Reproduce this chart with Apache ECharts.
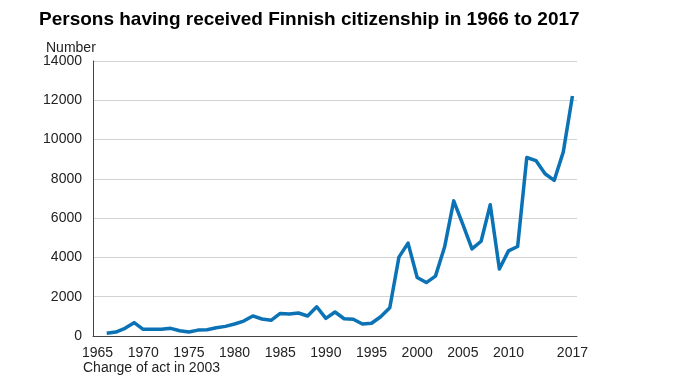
<!DOCTYPE html>
<html><head><meta charset="utf-8">
<script src="https://cdn.jsdelivr.net/npm/echarts@6/dist/echarts.min.js"></script>
<style>html,body{margin:0;padding:0;background:#fff}#c{width:683px;height:384px}</style>
</head><body><div id="c"></div>
<script>
const years = [];
for (let y = 1965; y <= 2017; y++) years.push(String(y));
const citizenships = [
  null,
  140, 200, 390, 680, 340, 340, 340, 390, 270, 200,
  300, 320, 420, 490, 610, 760, 1020, 865, 800, 1150,
  1120, 1170, 1020, 1490, 900, 1220, 880, 850, 610, 650,
  981, 1439, 4017, 4730, 2977, 2720, 3049, 4526, 6880, 5683,
  4433, 4824, 6682, 3413, 4334, 4558, 9087, 8930, 8260, 7921,
  9375, 12219
];
const labelYears = ['1965','1970','1975','1980','1985','1990','1995','2000','2005','2010','2017'];
const tickYears = ['1970','1975','1980','1985','1990','1995','2000','2005','2010','2015'];

const chart = echarts.init(document.getElementById('c'), null, {renderer:'canvas'});
chart.setOption({
  animation: false,
  title: {
    text: 'Persons having received Finnish citizenship in 1966 to 2017',
    left: 34, top: 5,
    textStyle: {fontFamily: 'Liberation Sans, Arial', fontWeight: 'bold', fontSize: 19, color: '#000'}
  },
  graphic: [
    {type: 'text', left: 46, top: 41, style: {text: 'Number', font: '14px "Liberation Sans", Arial', fill: '#222'}},
    {type: 'text', left: 83, top: 361, style: {text: 'Change of act in 2003', font: '14px "Liberation Sans", Arial', fill: '#222'}}
  ],
  grid: {left: 93, right: 106, top: 61, bottom: 48, containLabel: false},
  xAxis: {
    type: 'category',
    data: years,
    boundaryGap: true,
    axisLine: {lineStyle: {color: '#444', width: 1}},
    axisTick: {inside: true, length: 4, lineStyle: {color: '#444'}, interval: (i, v) => tickYears.includes(v)},
    axisLabel: {interval: (i, v) => labelYears.includes(v), color: '#222', fontSize: 14, fontFamily: 'Liberation Sans, Arial', margin: 10},
    splitLine: {show: false}
  },
  yAxis: {
    type: 'value', min: 0, max: 14000, interval: 2000,
    axisLine: {show: true, lineStyle: {color: '#444'}},
    axisTick: {show: false},
    axisLabel: {color: '#222', fontSize: 14, fontFamily: 'Liberation Sans, Arial', margin: 11, formatter: v => String(v)},
    splitLine: {lineStyle: {color: '#d2d2d2', type: 'solid', width: 1}}
  },
  series: [{
    type: 'line',
    data: citizenships,
    showSymbol: false,
    connectNulls: false,
    lineStyle: {color: '#0a72b5', width: 3.5, join: 'round'}
  }]
});
</script></body></html>
